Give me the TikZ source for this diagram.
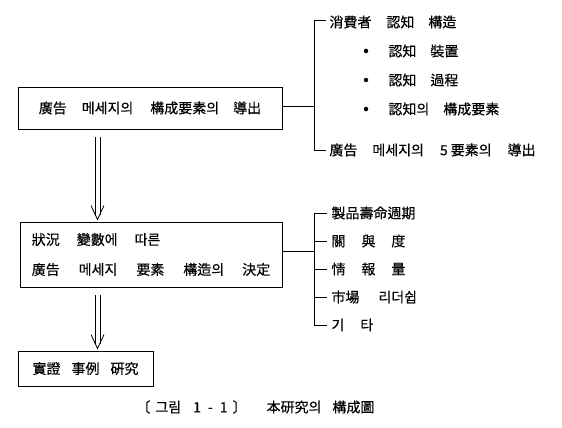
\documentclass[tikz,border=0pt]{standalone}
\usepackage{fontspec}
\setmainfont{Noto Sans CJK KR}[FakeBold=0.4]
\usetikzlibrary{calc}
\newcommand\wg[1][16pt]{\hspace{#1}}
\begin{document}
\begin{tikzpicture}[x=1pt,y=-1pt,
  font=\fontsize{14}{16}\selectfont,
  line width=0.9pt,
  box/.style={draw, inner sep=0pt, align=left},
  item/.style={anchor=west, inner sep=0pt},
  bul/.style={circle, fill, inner sep=0pt, minimum size=4.5pt},
  shaft/.style={line width=0.7pt}]
\useasboundingbox (0,0) rectangle (562,428);

% boxes
\node[box, minimum width=264, minimum height=42] (b1) at (150,108) {廣告\wg[15pt]메세지의\wg[17pt]構成要素의\wg[14pt]導出};
\node[box, minimum width=262, minimum height=65, font=\fontsize{14}{30}\selectfont] (b2) at (151,254.5) {狀況\wg[17pt]變數에\wg[17pt]따른\\廣告\wg[19pt]메세지\wg[19pt]要素\wg[19pt]構造의\wg[18pt]決定};
\node[box, minimum width=135, minimum height=35] (b3) at (85.5,368.5) {實證\wg[11pt]事例\wg[11pt]硏究};

% first list
\coordinate (j1) at (314,106);
\coordinate (t1) at (314,20);
\coordinate (u1) at (314,150);
\node[item] (l1) at (329,22) {消費者\wg[15pt]認知\wg[14pt]構造};
\node[bul] (d1) at (366,51) {};
\node[item] (l2) at (388,51) {認知\wg[14pt]裝置};
\node[bul] (d2) at (366,80) {};
\node[item] (l3) at (388,80) {認知\wg[14pt]過程};
\node[bul] (d3) at (366,109) {};
\node[item] (l4) at (388,109) {認知의\wg[14pt]構成要素};
\node[item] (l5) at (329,150) {廣告\wg[15pt]메세지의\wg[16pt]5\hspace{3pt}要素의\wg[16pt]導出};
\draw (b1.east |- j1) -- (j1);
\draw ([xshift=-3pt]l1.west |- t1) -- (t1) -- (u1) -- ([xshift=-3pt]l5.west |- u1);

% second list
\coordinate (j2) at (314,251);
\node[item] (m1) at (331,213) {製品壽命週期};
\node[item] (m2) at (331,241) {關\wg[16pt]與\wg[16pt]度};
\node[item] (m3) at (331,269) {情\wg[16pt]報\wg[16pt]量};
\node[item] (m4) at (331,297) {市場\wg[19pt]리더쉽};
\node[item] (m5) at (331,325) {기\wg[16pt]타};
\draw (b2.east |- j2) -- (j2);
\draw ([xshift=-4pt]m1.west) -- (m1.west -| j2) -- (m5.west -| j2) -- ([xshift=-4pt]m5.west);
\foreach \m in {m2,m3,m4} \draw (\m.west -| j2) -- ([xshift=-4pt]\m.west);

% double arrows
\foreach \a/\b in {b1/b2, b2/b3} {
  \coordinate (s) at ([yshift=-8pt]\a.south -| 97.5,0);
  \coordinate (e) at ([yshift=2pt]\b.north -| 97.5,0);
  \draw[shaft] ([xshift=-2.6pt]s) -- ([xshift=-2.6pt,yshift=5pt]e);
  \draw[shaft] ([xshift=2.6pt]s) -- ([xshift=2.6pt,yshift=5pt]e);
  \draw[line width=0.8pt] ([xshift=-6.5pt,yshift=14pt]e) -- (e) -- ([xshift=6.5pt,yshift=14pt]e);
}

% caption
\node[inner sep=0pt, anchor=west] (cap) at (136,407) {〔\hspace{5pt}그림\hspace{12pt}1\hspace{7pt}-\hspace{7pt}1\hspace{5pt}〕\hspace{20pt}本研究의\hspace{11pt}構成圖};
\end{tikzpicture}
\end{document}
